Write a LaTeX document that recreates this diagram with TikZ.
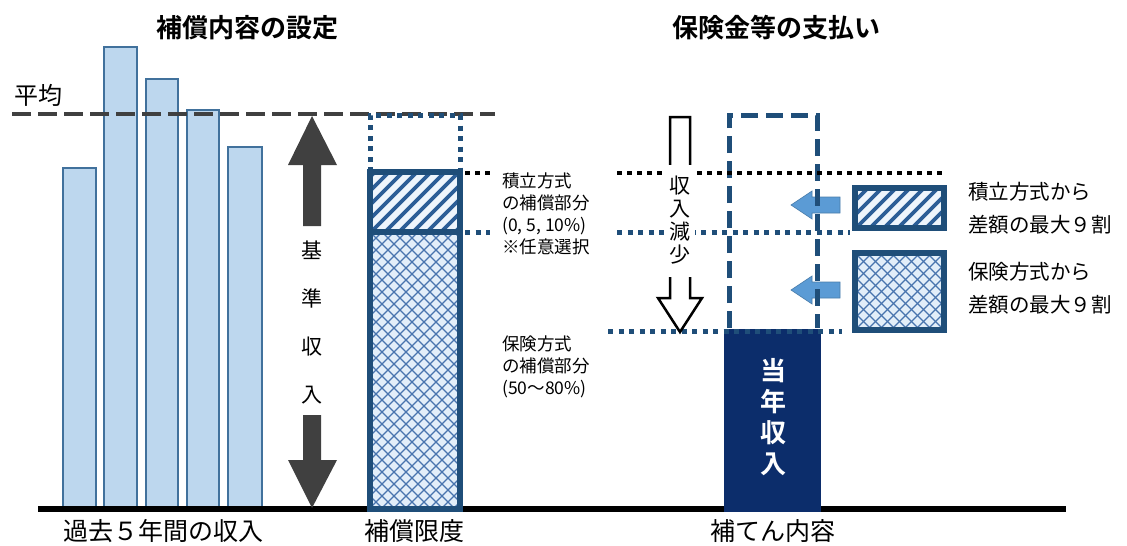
\documentclass[tikz,border=0pt]{standalone}
\usepackage{fontspec}
\setmainfont{Noto Sans CJK JP}[BoldFont={Noto Sans CJK JP Bold}]
\definecolor{barfill}{HTML}{BDD7EE}
\definecolor{bardraw}{HTML}{41719C}
\definecolor{dgray}{HTML}{404040}
\definecolor{dblue}{HTML}{1F4E79}
\definecolor{navy}{HTML}{0C2D6B}
\definecolor{lblue}{HTML}{5B9BD5}
\definecolor{hatchc}{HTML}{2C5E97}
\definecolor{hatchbg}{HTML}{EEF5FC}
\definecolor{crossbg}{HTML}{E2EEF9}
\definecolor{crossc}{HTML}{4874AE}
\newcommand\myhatch[4]{%
 \begin{scope}
 \clip (#1,#2) rectangle (#3,#4);
 \fill[hatchbg] (#1,#2) rectangle (#3,#4);
 \foreach \k in {0,14,...,560} \draw[hatchc,line width=3.8pt] (#1-200+\k,#4+5) -- ++(200,-200);
 \end{scope}}
\newcommand\mycross[4]{%
 \begin{scope}
 \clip (#1,#2) rectangle (#3,#4);
 \fill[crossbg] (#1,#2) rectangle (#3,#4);
 \foreach \k in {0,12,...,720} {\draw[crossc,line width=1.2pt] (#1-360+\k,#4) -- ++(360,-360); \draw[crossc,line width=1.2pt] (#1-360+\k,#2) -- ++(360,360);}
 \end{scope}}
\begin{document}
\begin{tikzpicture}[x=1pt,y=-1pt,
  bar/.style={fill=barfill,draw=bardraw,line width=1.4pt},
  dotblue/.style={dblue,line width=5pt,dash pattern=on 5pt off 5.5pt},
  dotblack/.style={black,line width=4.5pt,dash pattern=on 4.5pt off 5.5pt},
  dashbox/.style={dblue,line width=5pt,dash pattern=on 17pt off 8pt},
  graydash/.style={dgray,line width=4.5pt,dash pattern=on 19pt off 7pt},
  bxborder/.style={draw=dblue,line width=6.5pt},
  smallarrow/.style={fill=lblue,draw=lblue!80!black,line width=0.6pt},
  title/.style={font=\bfseries\fontsize{26}{30}\selectfont,inner sep=0},
  vchar/.style={font=\fontsize{21}{24}\selectfont,inner sep=0},
  botlab/.style={font=\fontsize{25}{30}\selectfont,inner sep=0},
  midlab/.style={font=\fontsize{17.5}{22}\selectfont,inner sep=0,align=left,anchor=north west},
  rightlab/.style={font=\fontsize{20.5}{33}\selectfont,inner sep=0,align=left,anchor=west},
  navych/.style={font=\bfseries\fontsize{26}{30}\selectfont,text=white,inner sep=0}]
\useasboundingbox (0,0) rectangle (1127,546);
% titles
\node[title] (t1) at (247,28) {補償内容の設定};
\node[title] (t2) at (776,28) {保険金等の支払い};
% average
\node[font=\fontsize{24}{28}\selectfont,inner sep=0] (avg) at (38,95) {平均};
% bars
\draw[bar] (63,168) rectangle (96,509);
\draw[bar] (104,47) rectangle (137,509);
\draw[bar] (146,79) rectangle (178,509);
\draw[bar] (187,110) rectangle (219,509);
\draw[bar] (228,147) rectangle (262,509);
\draw[graydash] (12,114) -- (495,114);
% baseline
\draw[black,line width=5.5pt] (38,509) -- (1066,509);
% big arrows
\fill[dgray] (312,116) -- (337,165) -- (321,165) -- (321,226) -- (303,226) -- (303,165) -- (288,165) -- cycle;
\fill[dgray] (303,415) -- (321,415) -- (321,460) -- (337,460) -- (312,508) -- (288,460) -- (303,460) -- cycle;
\node[vchar] (k1) at (312,250) {基};
\node[vchar] (k2) at (312,298) {準};
\node[vchar] (k3) at (312,347) {収};
\node[vchar] (k4) at (312,395) {入};
% left box
\myhatch{370}{172}{460}{232}
\mycross{370}{232}{460}{508}
\draw[dotblue] (370,172) -- (370,115) -- (460,115) -- (460,172);
\draw[bxborder] (370,172) rectangle (460,509);
\draw[bxborder] (370,232) -- (460,232);
% mid labels
\node[midlab] (lab1) at (502,173) {積立方式\\の補償部分\\(0, 5, 10\%)\\※任意選択};
\node[midlab] (lab2) at (502,336) {保険方式\\の補償部分\\(50〜80\%)};
% right small arrows
\draw[smallarrow] (791,205) -- (812,191) -- (812,197) -- (840,197) -- (840,213) -- (812,213) -- (812,219) -- cycle;
\draw[smallarrow] (791,290) -- (812,276) -- (812,282) -- (840,282) -- (840,298) -- (812,298) -- (812,304) -- cycle;
% right small boxes
\myhatch{855}{188}{944}{228}
\draw[bxborder,line width=6pt] (855,188) rectangle (944,228);
\mycross{855}{253}{944}{330}
\draw[bxborder,line width=6pt] (855,253) rectangle (944,330);
% navy bar
\fill[navy] (724,329) rectangle (821,512);
\node[navych] (n1) at (773,371) {当};
\node[navych] (n2) at (773,402) {年};
\node[navych] (n3) at (773,433) {収};
\node[navych] (n4) at (773,464) {入};
% dashed box
\draw[dashbox] (729,328) -- (729,115) -- (817,115) -- (817,328);
% dotted lines
\draw[dotblack] (465,173) -- (490,173);
\draw[dotblack] (617,173) -- (942,173);
\draw[dotblue] (465,232) -- (490,232);
\draw[dotblue] (617,232) -- (850,232);
\draw[dotblue] (608,331) -- (842,331);
% hollow arrow
\draw[black,line width=2.5pt,line join=miter] (670,117) -- (690,117) -- (690,298) -- (702,298) -- (680,332) -- (658,298) -- (670,298) -- cycle;
\node[fill=white,minimum width=30pt,minimum height=112pt,inner sep=0] (gap) at (680,221) {};
\node[vchar] (g1) at (680,186) {収};
\node[vchar] (g2) at (680,209) {入};
\node[vchar] (g3) at (680,232) {減};
\node[vchar] (g4) at (680,255) {少};
% right labels
\node[rightlab] (r1) at (968,208) {積立方式から\\差額の最大９割};
\node[rightlab] (r2) at (968,288) {保険方式から\\差額の最大９割};
% bottom labels
\node[botlab] (b1) at (163,531) {過去５年間の収入};
\node[botlab] (b2) at (414,531) {補償限度};
\node[botlab] (b3) at (773,531) {補てん内容};
\end{tikzpicture}
\end{document}
